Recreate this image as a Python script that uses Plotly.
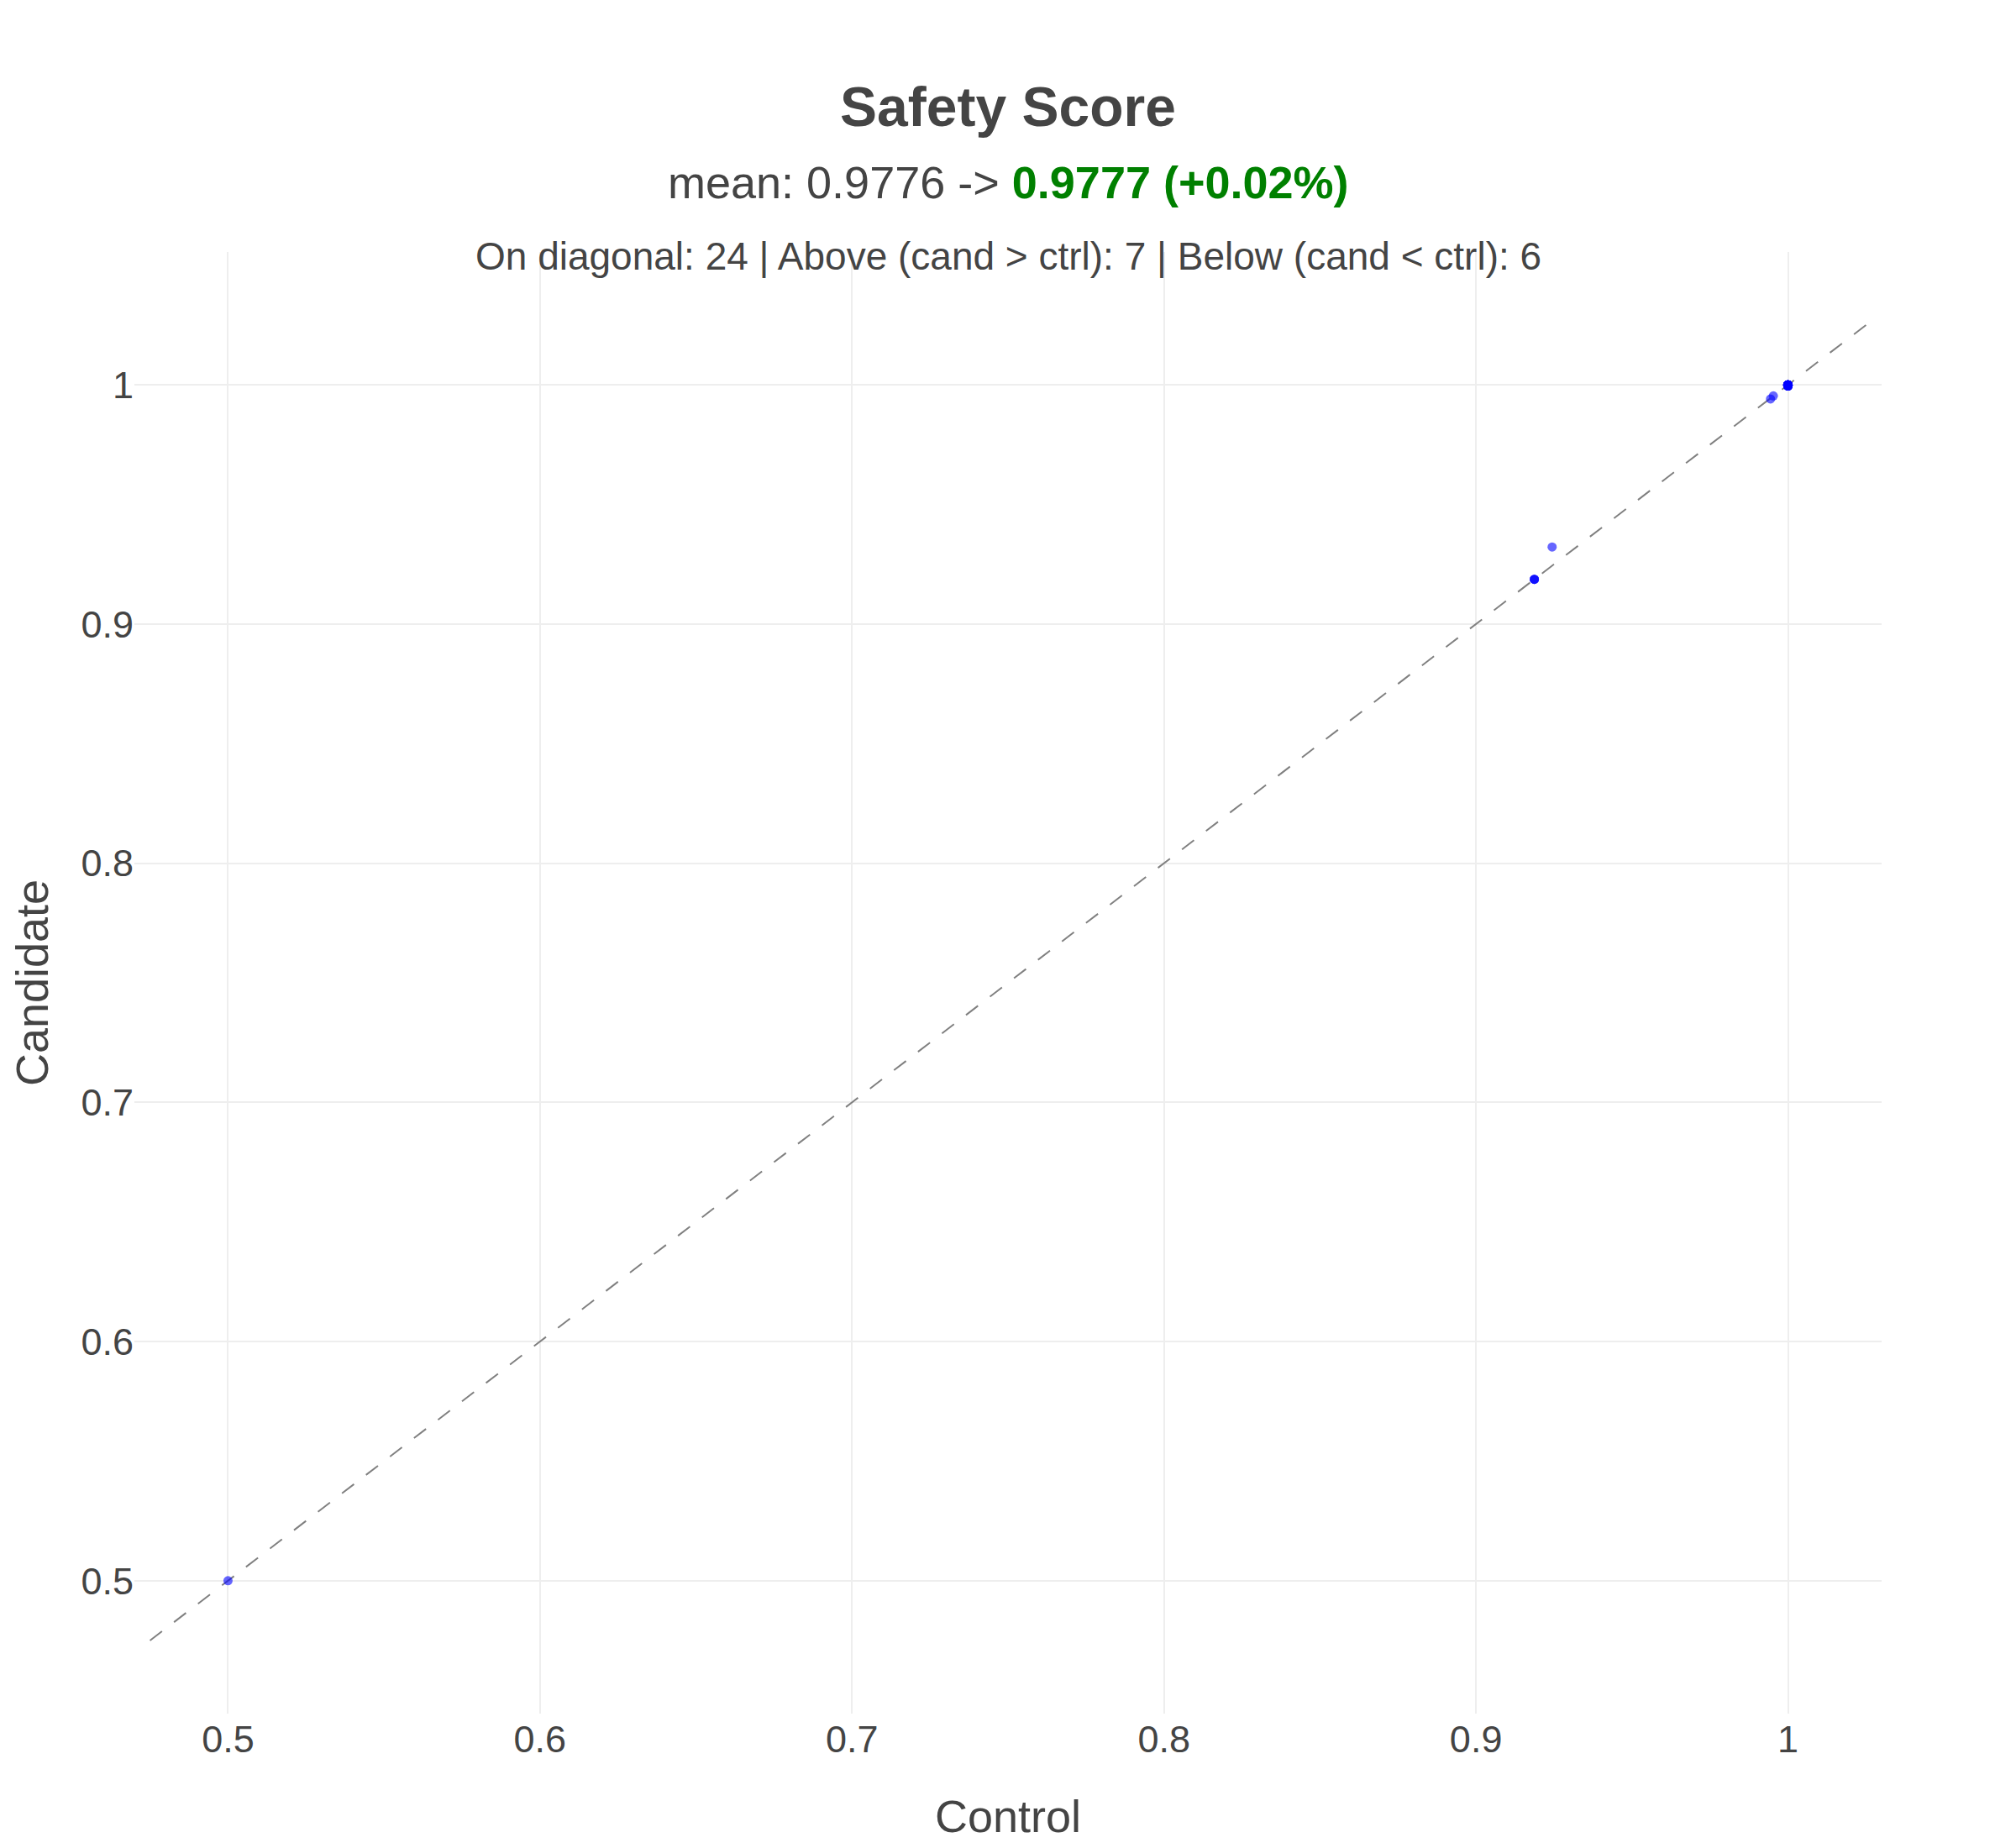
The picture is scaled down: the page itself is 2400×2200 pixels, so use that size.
import plotly.graph_objects as go

# per-item scores: control run vs candidate run
control = [
    0.5, 0.9187, 0.9187, 0.9187, 0.9244, 0.9944, 0.9953,
    1.0, 1.0, 1.0, 1.0, 1.0, 1.0, 1.0, 1.0, 1.0, 1.0,
    1.0, 1.0, 1.0, 1.0, 1.0, 1.0, 1.0, 1.0, 1.0, 1.0,
    0.9999, 0.9999, 0.9999, 0.9999, 0.9999,
    1.0, 1.0, 1.0, 1.0, 1.0,
]
candidate = [
    0.5, 0.9187, 0.9187, 0.9187, 0.9322, 0.9941, 0.9954,
    1.0, 1.0, 1.0, 1.0, 1.0, 1.0, 1.0, 1.0, 1.0, 1.0,
    1.0, 1.0, 1.0, 1.0, 1.0, 1.0, 1.0, 1.0, 1.0, 1.0,
    1.0, 1.0, 1.0, 1.0, 1.0,
    0.9995, 0.9995, 0.9995, 0.9995, 0.9995,
]

metric_name = "Safety Score"
x_label = "Control"
y_label = "Candidate"

# summary stats
ctrl_mean = sum(control) / len(control)
cand_mean = sum(candidate) / len(candidate)
pct = (cand_mean - ctrl_mean) / ctrl_mean * 100
n_diag = sum(1 for c, d in zip(control, candidate) if c == d)
n_above = sum(1 for c, d in zip(control, candidate) if d > c)
n_below = sum(1 for c, d in zip(control, candidate) if d < c)

lo = min(min(control), min(candidate))
hi = max(max(control), max(candidate))
span = hi - lo
pad = span * 0.05

FONT = "Liberation Sans, Arial, sans-serif"

fig = go.Figure()

# y = x reference line
fig.add_trace(go.Scatter(
    x=[lo - pad, hi + pad], y=[lo - pad, hi + pad],
    mode="lines",
    line=dict(color="gray", width=2, dash="18px,18px"),
    hoverinfo="skip", showlegend=False,
))

fig.add_trace(go.Scatter(
    x=control, y=candidate,
    mode="markers",
    marker=dict(color="blue", size=11, opacity=0.6),
    showlegend=False,
))

fig.update_layout(
    width=2384, height=2184,
    paper_bgcolor="white", plot_bgcolor="white",
    font=dict(family=FONT, color="#444444", size=45),
    margin=dict(l=152, r=152, t=292, b=152),
    showlegend=False,
)

fig.update_xaxes(
    title=dict(text=x_label, font=dict(size=54), standoff=56),
    automargin=False,
    range=[lo - 0.06 * span, hi + 0.06 * span],
    showgrid=True, gridcolor="#eeeeee", gridwidth=2,
    zeroline=False, showline=False, ticks="",
    tickfont=dict(size=45),
)
fig.update_yaxes(
    title=dict(text=y_label, font=dict(size=54), standoff=56),
    automargin=False,
    range=[lo - span / 9, hi + span / 9],
    showgrid=True, gridcolor="#eeeeee", gridwidth=2,
    zeroline=False, showline=False, ticks="",
    tickfont=dict(size=45),
)

fig.add_annotation(
    text=f"<b>{metric_name}</b>",
    xref="paper", yref="paper", x=0.5, y=1.0994,
    xanchor="center", yanchor="middle", showarrow=False,
    font=dict(size=66, color="#444444"),
)
fig.add_annotation(
    text=(f"mean: {ctrl_mean:.4f} -> "
          f"<span style='color:green'><b>{cand_mean:.4f} ({pct:+.2f}%)</b></span>"),
    xref="paper", yref="paper", x=0.5, y=1.0477,
    xanchor="center", yanchor="middle", showarrow=False,
    font=dict(size=54, color="#444444"),
)
fig.add_annotation(
    text=(f"On diagonal: {n_diag} | Above (cand > ctrl): {n_above} | "
          f"Below (cand < ctrl): {n_below}"),
    xref="paper", yref="paper", x=0.5, y=0.9971,
    xanchor="center", yanchor="middle", showarrow=False,
    font=dict(size=46, color="#444444"),
)

fig.write_html("out.html")
